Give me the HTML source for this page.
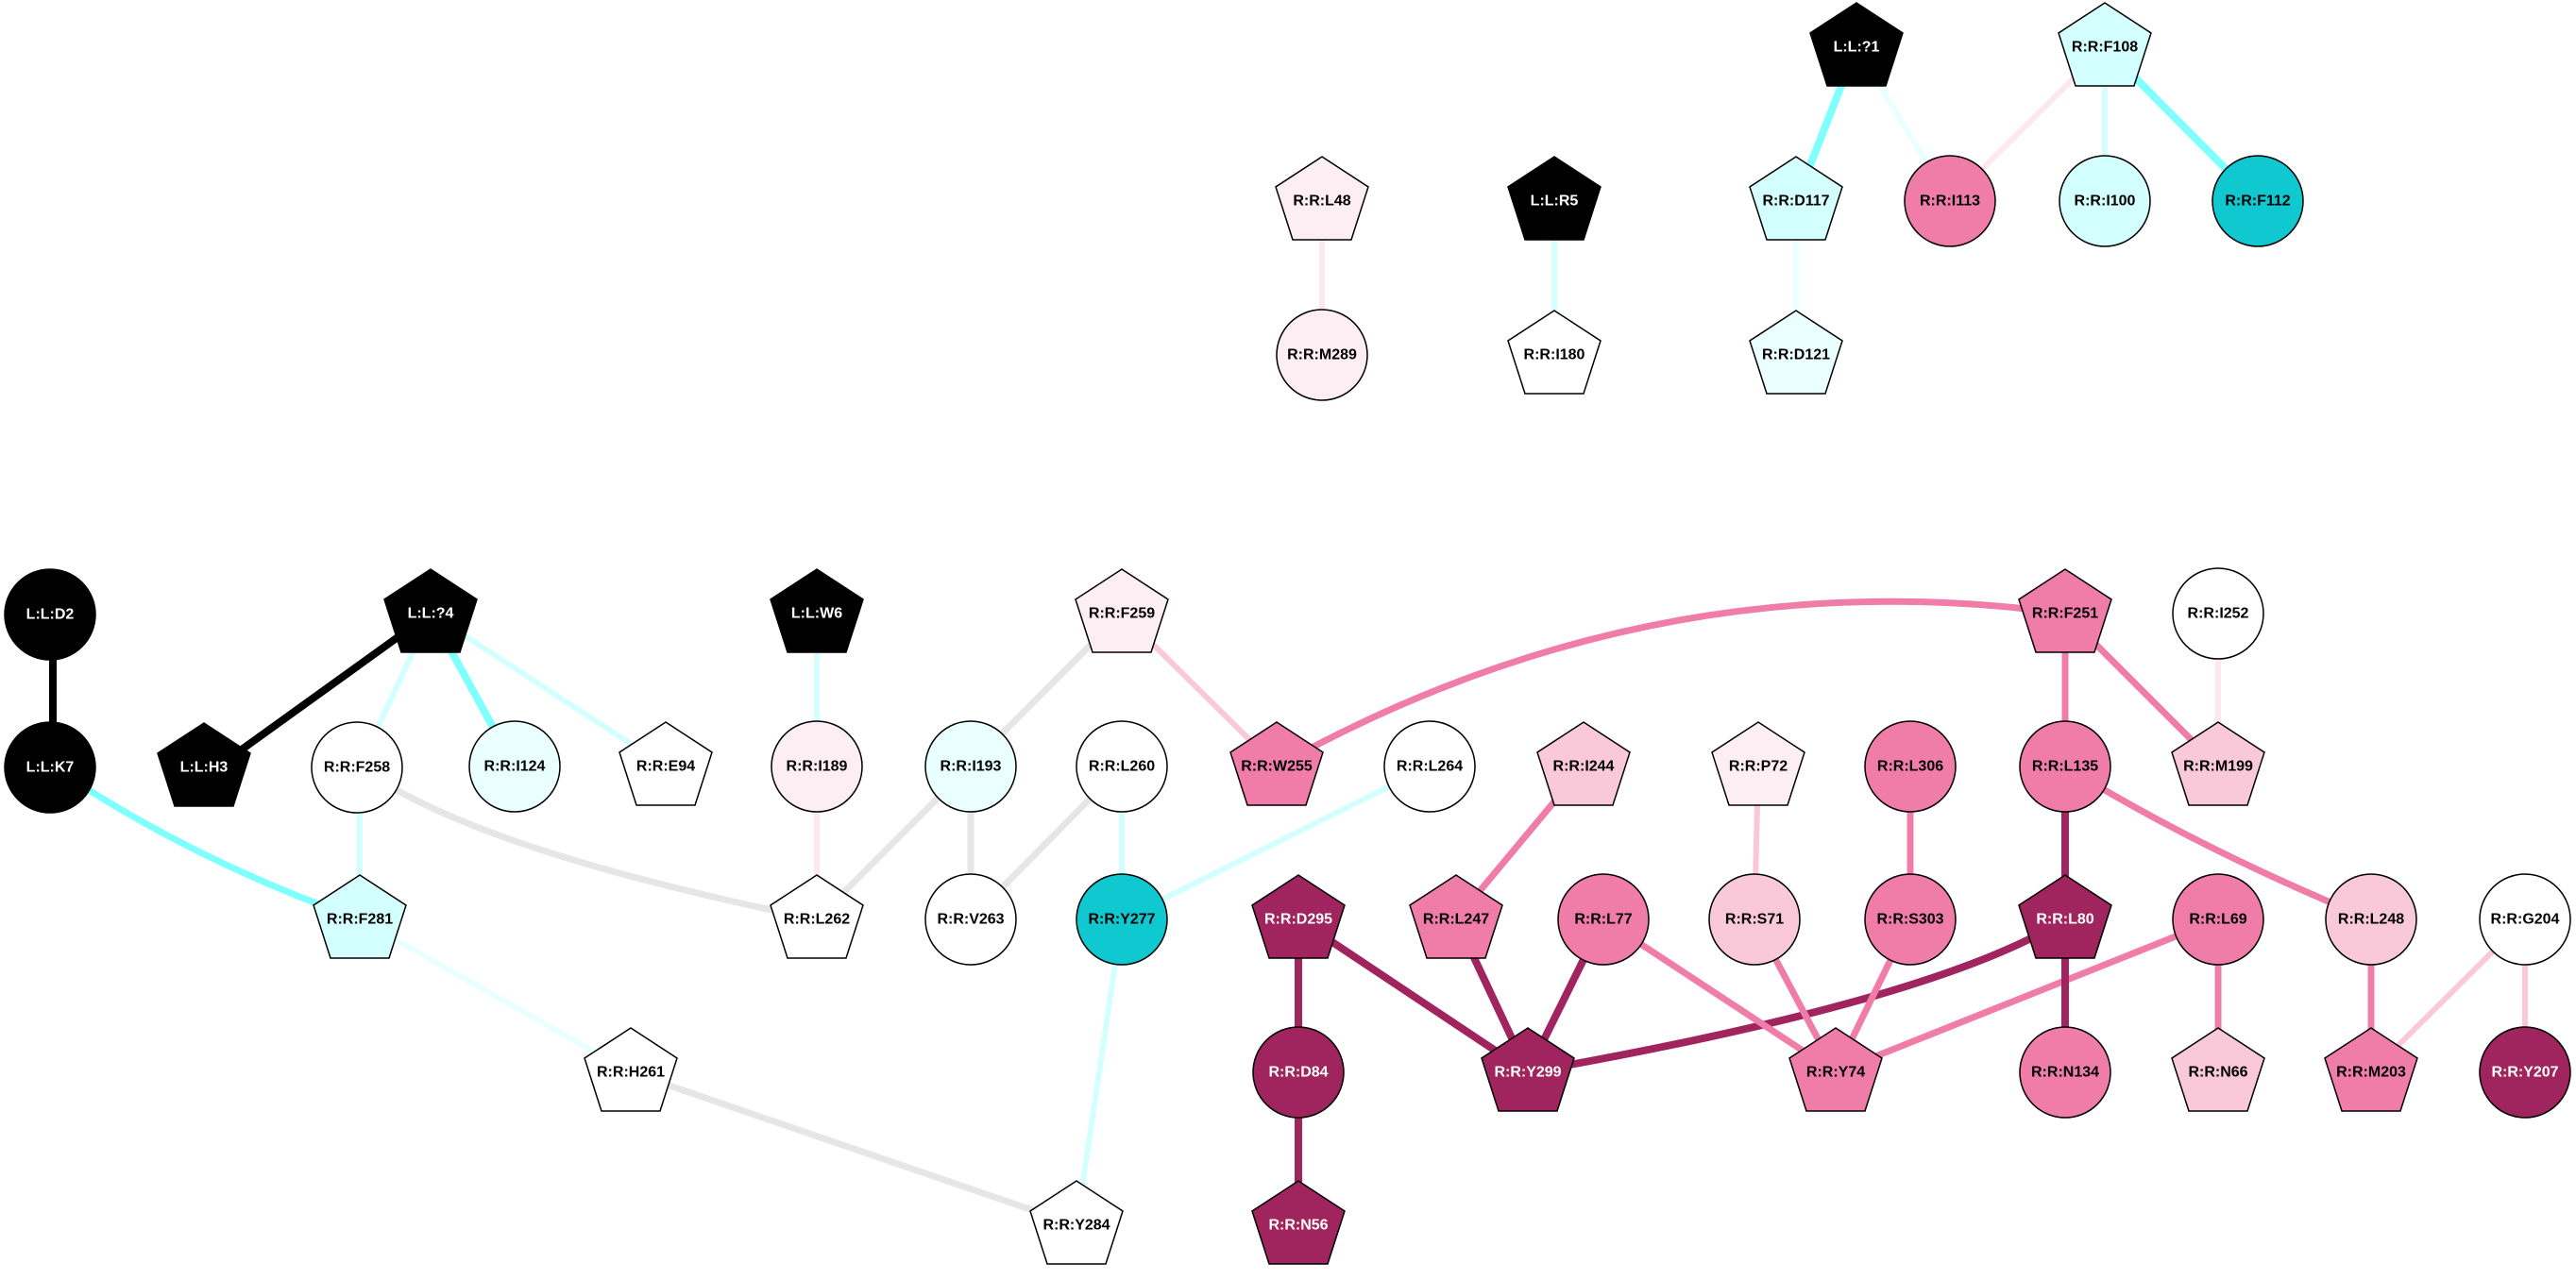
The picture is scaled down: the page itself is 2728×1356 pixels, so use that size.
<!DOCTYPE html>
<html><head><meta charset="utf-8"><style>
html,body{margin:0;padding:0;background:#fff}
svg{display:block}
text{font-family:"Liberation Sans",Arial,sans-serif;font-size:16px;font-weight:bold;text-anchor:middle;dominant-baseline:central}
.w{fill:#fff}
</style></head><body>
<svg width="2728" height="1356" viewBox="0 0 2728 1356" xmlns="http://www.w3.org/2000/svg">
<defs>
<polygon id="p" points="0,-47 49,-15 31,41 -31,41 -49,-15" stroke="#000" stroke-width="1.5"/>
<ellipse id="c" rx="48" ry="48" stroke="#000" stroke-width="1.5"/>
</defs>
<g fill="none" stroke-linecap="butt">
<line x1="1400" y1="213" x2="1400" y2="376" stroke="#fce8ef" stroke-width="6"/>
<line x1="1646" y1="213" x2="1646" y2="376" stroke="#d4ffff" stroke-width="6"/>
<line x1="1966" y1="50" x2="1902" y2="213" stroke="#80ffff" stroke-width="8"/>
<line x1="1966" y1="50" x2="2065" y2="213" stroke="#eaffff" stroke-width="6"/>
<line x1="2229" y1="50" x2="2065" y2="213" stroke="#fce8ef" stroke-width="6"/>
<line x1="2229" y1="50" x2="2229" y2="213" stroke="#d4ffff" stroke-width="6"/>
<line x1="2229" y1="50" x2="2391" y2="213" stroke="#80ffff" stroke-width="8"/>
<line x1="1902" y1="213" x2="1902" y2="376" stroke="#eaffff" stroke-width="6"/>
<line x1="56" y1="650" x2="56" y2="812" stroke="#000" stroke-width="8"/>
<line x1="456" y1="650" x2="231" y2="812" stroke="#000" stroke-width="8"/>
<line x1="456" y1="650" x2="381" y2="812" stroke="#d4ffff" stroke-width="6"/>
<line x1="456" y1="650" x2="545" y2="812" stroke="#80ffff" stroke-width="8"/>
<line x1="456" y1="650" x2="705" y2="812" stroke="#d4ffff" stroke-width="6"/>
<path d="M56,812 Q200,910 381,974" stroke="#80ffff" stroke-width="7"/>
<line x1="381" y1="812" x2="381" y2="974" stroke="#d4ffff" stroke-width="6"/>
<path d="M381,812 Q500,900 865,974" stroke="#e6e6e6" stroke-width="7"/>
<line x1="381" y1="974" x2="668" y2="1136" stroke="#eaffff" stroke-width="6"/>
<line x1="668" y1="1136" x2="1140" y2="1298" stroke="#e6e6e6" stroke-width="7"/>
<line x1="865" y1="650" x2="865" y2="812" stroke="#d4ffff" stroke-width="6"/>
<line x1="865" y1="812" x2="865" y2="974" stroke="#fce8ef" stroke-width="6"/>
<line x1="1188" y1="650" x2="865" y2="974" stroke="#e6e6e6" stroke-width="7"/>
<line x1="1028" y1="812" x2="1028" y2="974" stroke="#e6e6e6" stroke-width="7"/>
<line x1="1188" y1="812" x2="1028" y2="974" stroke="#e6e6e6" stroke-width="7"/>
<line x1="1188" y1="650" x2="1352" y2="812" stroke="#f9c8d9" stroke-width="6"/>
<path d="M1352,812 Q1750,590 2187,650" stroke="#f07ca8" stroke-width="7"/>
<line x1="1188" y1="812" x2="1188" y2="974" stroke="#d4ffff" stroke-width="6"/>
<line x1="1514" y1="812" x2="1188" y2="974" stroke="#d4ffff" stroke-width="6"/>
<line x1="1188" y1="974" x2="1140" y2="1298" stroke="#d4ffff" stroke-width="6"/>
<line x1="1677" y1="812" x2="1542" y2="974" stroke="#f07ca8" stroke-width="7"/>
<line x1="1862" y1="812" x2="1858" y2="974" stroke="#f9c8d9" stroke-width="6"/>
<line x1="2023" y1="812" x2="2023" y2="974" stroke="#f07ca8" stroke-width="7"/>
<line x1="2187" y1="650" x2="2187" y2="812" stroke="#f07ca8" stroke-width="7"/>
<line x1="2187" y1="650" x2="2349" y2="812" stroke="#f07ca8" stroke-width="7"/>
<line x1="2349" y1="650" x2="2349" y2="812" stroke="#fce8ef" stroke-width="6"/>
<line x1="2187" y1="812" x2="2187" y2="974" stroke="#a0245e" stroke-width="8"/>
<path d="M2187,812 Q2330,900 2511,974" stroke="#f07ca8" stroke-width="7"/>
<line x1="1375" y1="974" x2="1375" y2="1136" stroke="#a0245e" stroke-width="8"/>
<line x1="1375" y1="1136" x2="1375" y2="1298" stroke="#a0245e" stroke-width="8"/>
<line x1="1375" y1="974" x2="1618" y2="1136" stroke="#a0245e" stroke-width="8"/>
<line x1="1542" y1="974" x2="1618" y2="1136" stroke="#a0245e" stroke-width="8"/>
<line x1="1698" y1="974" x2="1618" y2="1136" stroke="#a0245e" stroke-width="8"/>
<path d="M2187,974 Q2050,1060 1618,1136" stroke="#a0245e" stroke-width="8"/>
<line x1="1698" y1="974" x2="1944" y2="1136" stroke="#f07ca8" stroke-width="7"/>
<line x1="1858" y1="974" x2="1944" y2="1136" stroke="#f07ca8" stroke-width="7"/>
<line x1="2023" y1="974" x2="1944" y2="1136" stroke="#f07ca8" stroke-width="7"/>
<line x1="2349" y1="974" x2="1944" y2="1136" stroke="#f07ca8" stroke-width="7"/>
<line x1="2187" y1="974" x2="2187" y2="1136" stroke="#a0245e" stroke-width="8"/>
<line x1="2349" y1="974" x2="2349" y2="1136" stroke="#f07ca8" stroke-width="7"/>
<line x1="2511" y1="974" x2="2511" y2="1136" stroke="#f07ca8" stroke-width="7"/>
<line x1="2674" y1="974" x2="2511" y2="1136" stroke="#f9c8d9" stroke-width="6"/>
<line x1="2674" y1="974" x2="2674" y2="1136" stroke="#f9c8d9" stroke-width="6"/>
</g>

<g transform="translate(1400,213)"><use href="#p" fill="#fdeef4"/><text>R:R:L48</text></g>
<g transform="translate(1400,376)"><use href="#c" fill="#fdeef4"/><text>R:R:M289</text></g>
<g transform="translate(1646,213)"><use href="#p" fill="#000"/><text class="w">L:L:R5</text></g>
<g transform="translate(1646,376)"><use href="#p" fill="#fff"/><text>R:R:I180</text></g>
<g transform="translate(1966,50)"><use href="#p" fill="#000"/><text class="w">L:L:?1</text></g>
<g transform="translate(2229,50)"><use href="#p" fill="#d4ffff"/><text>R:R:F108</text></g>
<g transform="translate(1902,213)"><use href="#p" fill="#d4ffff"/><text>R:R:D117</text></g>
<g transform="translate(2065,213)"><use href="#c" fill="#f07ca8"/><text>R:R:I113</text></g>
<g transform="translate(2229,213)"><use href="#c" fill="#d4ffff"/><text>R:R:I100</text></g>
<g transform="translate(2391,213)"><use href="#c" fill="#10c8d0"/><text>R:R:F112</text></g>
<g transform="translate(1902,376)"><use href="#p" fill="#eaffff"/><text>R:R:D121</text></g>

<g transform="translate(53,651)"><use href="#c" fill="#000"/><text class="w">L:L:D2</text></g>
<g transform="translate(53,813)"><use href="#c" fill="#000"/><text class="w">L:L:K7</text></g>
<g transform="translate(456,650)"><use href="#p" fill="#000"/><text class="w">L:L:?4</text></g>
<g transform="translate(216,813)"><use href="#p" fill="#000"/><text class="w">L:L:H3</text></g>
<g transform="translate(378,813)"><use href="#c" fill="#fff"/><text>R:R:F258</text></g>
<g transform="translate(545,812)"><use href="#c" fill="#eaffff"/><text>R:R:I124</text></g>
<g transform="translate(705,812)"><use href="#p" fill="#fff"/><text>R:R:E94</text></g>
<g transform="translate(381,974)"><use href="#p" fill="#d4ffff"/><text>R:R:F281</text></g>
<g transform="translate(668,1136)"><use href="#p" fill="#fff"/><text>R:R:H261</text></g>
<g transform="translate(1140,1298)"><use href="#p" fill="#fff"/><text>R:R:Y284</text></g>
<g transform="translate(865,650)"><use href="#p" fill="#000"/><text class="w">L:L:W6</text></g>
<g transform="translate(865,812)"><use href="#c" fill="#fdeef4"/><text>R:R:I189</text></g>
<g transform="translate(865,974)"><use href="#p" fill="#fff"/><text>R:R:L262</text></g>
<g transform="translate(1188,650)"><use href="#p" fill="#fdeef4"/><text>R:R:F259</text></g>
<g transform="translate(1028,812)"><use href="#c" fill="#eaffff"/><text>R:R:I193</text></g>
<g transform="translate(1028,974)"><use href="#c" fill="#fff"/><text>R:R:V263</text></g>
<g transform="translate(1188,812)"><use href="#c" fill="#fff"/><text>R:R:L260</text></g>
<g transform="translate(1188,974)"><use href="#c" fill="#10c8d0"/><text>R:R:Y277</text></g>
<g transform="translate(1352,812)"><use href="#p" fill="#f07ca8"/><text>R:R:W255</text></g>
<g transform="translate(1514,812)"><use href="#c" fill="#fff"/><text>R:R:L264</text></g>
<g transform="translate(1677,812)"><use href="#p" fill="#f9c8d9"/><text>R:R:I244</text></g>
<g transform="translate(1862,812)"><use href="#p" fill="#fdeef4"/><text>R:R:P72</text></g>
<g transform="translate(2023,812)"><use href="#c" fill="#f07ca8"/><text>R:R:L306</text></g>
<g transform="translate(2187,650)"><use href="#p" fill="#f07ca8"/><text>R:R:F251</text></g>
<g transform="translate(2349,650)"><use href="#c" fill="#fff"/><text>R:R:I252</text></g>
<g transform="translate(2187,812)"><use href="#c" fill="#f07ca8"/><text>R:R:L135</text></g>
<g transform="translate(2349,812)"><use href="#p" fill="#f9c8d9"/><text>R:R:M199</text></g>
<g transform="translate(1375,974)"><use href="#p" fill="#a0245e"/><text class="w">R:R:D295</text></g>
<g transform="translate(1542,974)"><use href="#p" fill="#f07ca8"/><text>R:R:L247</text></g>
<g transform="translate(1698,974)"><use href="#c" fill="#f07ca8"/><text>R:R:L77</text></g>
<g transform="translate(1858,974)"><use href="#c" fill="#f9c8d9"/><text>R:R:S71</text></g>
<g transform="translate(2023,974)"><use href="#c" fill="#f07ca8"/><text>R:R:S303</text></g>
<g transform="translate(2187,974)"><use href="#p" fill="#a0245e"/><text class="w">R:R:L80</text></g>
<g transform="translate(2349,974)"><use href="#c" fill="#f07ca8"/><text>R:R:L69</text></g>
<g transform="translate(2511,974)"><use href="#c" fill="#f9c8d9"/><text>R:R:L248</text></g>
<g transform="translate(2674,974)"><use href="#c" fill="#fff"/><text>R:R:G204</text></g>
<g transform="translate(1375,1136)"><use href="#c" fill="#a0245e"/><text class="w">R:R:D84</text></g>
<g transform="translate(1618,1136)"><use href="#p" fill="#a0245e"/><text class="w">R:R:Y299</text></g>
<g transform="translate(1944,1136)"><use href="#p" fill="#f07ca8"/><text>R:R:Y74</text></g>
<g transform="translate(2187,1136)"><use href="#c" fill="#f07ca8"/><text>R:R:N134</text></g>
<g transform="translate(2349,1136)"><use href="#p" fill="#f9c8d9"/><text>R:R:N66</text></g>
<g transform="translate(2511,1136)"><use href="#p" fill="#f07ca8"/><text>R:R:M203</text></g>
<g transform="translate(2674,1136)"><use href="#c" fill="#a0245e"/><text class="w">R:R:Y207</text></g>
<g transform="translate(1375,1298)"><use href="#p" fill="#a0245e"/><text class="w">R:R:N56</text></g>
</svg>
</body></html>
